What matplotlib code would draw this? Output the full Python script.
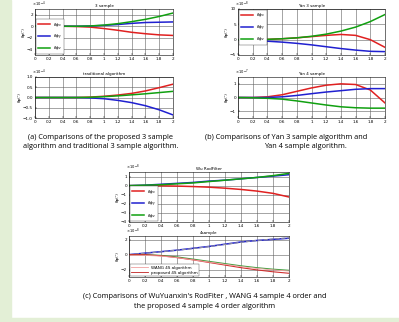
import numpy as np
import matplotlib
matplotlib.use("Agg")
import matplotlib.pyplot as plt
from matplotlib.patches import Rectangle
from matplotlib.lines import Line2D

# time axis (s)
t = [0, 0.2, 0.4, 0.6, 0.8, 1.0, 1.2, 1.4, 1.6, 1.8, 2.0]
xticks = [0, 0.2, 0.4, 0.6, 0.8, 1, 1.2, 1.4, 1.6, 1.8, 2]
xticklabels = ["0", "0.2", "0.4", "0.6", "0.8", "1", "1.2", "1.4", "1.6", "1.8", "2"]

# (a) proposed 3 sample
a1_x = [0, 0, 0, -0.05, -0.15, -0.4, -0.7, -1.05, -1.3, -1.5, -1.6]
a1_y = [0, 0, 0, 0, 0.05, 0.15, 0.3, 0.5, 0.65, 0.7, 0.75]
a1_z = [0, 0, 0, 0, 0.05, 0.2, 0.45, 0.8, 1.2, 1.7, 2.3]
# (a) traditional algorithm
a2_x = [0, 0, 0, 0, 0.02, 0.06, 0.12, 0.2, 0.32, 0.48, 0.65]
a2_y = [0, 0, 0, 0, -0.02, -0.06, -0.14, -0.25, -0.4, -0.6, -0.85]
a2_z = [0, 0, 0, 0, 0.01, 0.04, 0.08, 0.13, 0.18, 0.24, 0.3]
# (b) Yan 3 sample
b1_x = [0, 0, 0.1, 0.3, 0.6, 1.0, 1.4, 1.7, 1.4, 0.0, -2.5]
b1_y = [0, -0.2, -0.5, -0.8, -1.2, -1.7, -2.3, -2.9, -3.4, -3.8, -3.9]
b1_z = [0, 0, 0.1, 0.3, 0.6, 1.1, 1.8, 2.8, 4.1, 5.9, 8.2]
# (b) Yan 4 sample
b2_x = [0, 0, 0.05, 0.2, 0.45, 0.7, 0.9, 1.0, 0.95, 0.55, -0.4]
b2_y = [0, 0, 0, 0.05, 0.15, 0.28, 0.4, 0.5, 0.6, 0.65, 0.65]
b2_z = [0, -0.02, -0.06, -0.12, -0.25, -0.4, -0.55, -0.68, -0.75, -0.78, -0.78]
# (c) Wu RodFilter
c1_x = [0, 0, -0.02, -0.05, -0.1, -0.17, -0.28, -0.42, -0.6, -0.85, -1.25]
c1_y = [0, 0.05, 0.15, 0.25, 0.35, 0.5, 0.6, 0.75, 0.9, 1.05, 1.2]
c1_z = [0, 0.05, 0.1, 0.2, 0.3, 0.45, 0.6, 0.75, 0.9, 1.1, 1.35]
# (c) 4 sample
c2_up = [0, 0.2, 0.4, 0.6, 0.85, 1.1, 1.4, 1.7, 1.9, 2.05, 2.2]
c2_up_d = [0, 0.18, 0.38, 0.6, 0.82, 1.08, 1.36, 1.66, 1.9, 2.1, 2.25]
c2_wang = [0, 0, -0.1, -0.3, -0.6, -0.9, -1.2, -1.5, -1.75, -1.95, -2.1]
c2_prop = [0, 0, -0.15, -0.4, -0.7, -1.05, -1.4, -1.75, -2.05, -2.3, -2.5]

labels_xyz = [r"$\delta\phi_x$", r"$\delta\phi_y$", r"$\delta\phi_z$"]
cols = ["#e02020", "#2020d0", "#10a010"]
FS = 3

W, H = 399, 322
fig = plt.figure(figsize=(W / 100, H / 100), dpi=100)
fig.patch.set_facecolor("white")
fig.patches.append(Rectangle((0, 0), 11 / W, 1, transform=fig.transFigure,
                             color="#e3efd6", zorder=0))
fig.patches.append(Rectangle((0, 0), 1, 4 / H, transform=fig.transFigure,
                             color="#e3efd6", zorder=0))


def make_ax(x0, y0, x1, y1):
    return fig.add_axes([x0 / W, 1 - y1 / H, (x1 - x0) / W, (y1 - y0) / H])


def style(ax, title, ylim, yticks, exp):
    ax.set_xlim(0, 2)
    ax.set_ylim(*ylim)
    ax.set_xticks(xticks)
    ax.set_xticklabels(xticklabels)
    ax.set_yticks(yticks)
    ax.tick_params(labelsize=FS, length=1.5, width=0.3, pad=1.5, direction="in")
    ax.grid(True, color="#606060", lw=0.4)
    for s in ax.spines.values():
        s.set_linewidth(0.4)
    ax.set_title(title, fontsize=FS, pad=1.5)
    ax.set_ylabel("δφ(″)", fontsize=FS, labelpad=1)
    ax.text(-0.02, 1.0, r"$\times\,10^{%d}$" % exp, transform=ax.transAxes,
            fontsize=2.6, ha="left", va="bottom")


def three(ax, xs, loc):
    for v, c, lab in zip(xs, cols, labels_xyz):
        ax.plot(t, v, color=c, lw=1.1, label=lab)
    ax.legend(loc=loc, fontsize=FS, handlelength=3, framealpha=1,
              edgecolor="#444444", fancybox=False, borderpad=0.4,
              labelspacing=0.8, borderaxespad=0.2).get_frame().set_linewidth(0.3)


# (a)
ax = make_ax(35, 9, 173, 55)
three(ax, [a1_x, a1_y, a1_z], "lower left")
style(ax, "3 sample", (-5, 3), [-4, -2, 0, 2], -4)

ax = make_ax(35, 77, 173, 118)
for v, c in zip([a2_x, a2_y, a2_z], cols):
    ax.plot(t, v, color=c, lw=1.1)
style(ax, "traditional algorithm", (-1, 1), [-1, -0.5, 0, 0.5, 1], -4)

# (b)
ax = make_ax(238, 9, 385, 55)
three(ax, [b1_x, b1_y, b1_z], "upper left")
style(ax, "Yan 3 sample", (-5, 10), [-5, 0, 5, 10], -8)

ax = make_ax(238, 77, 385, 118)
for v, c in zip([b2_x, b2_y, b2_z], cols):
    ax.plot(t, v, color=c, lw=1.1)
style(ax, "Yan 4 sample", (-1.5, 1.5), [-1, 0, 1], -7)

# (c)
ax = make_ax(129, 172, 289, 222)
three(ax, [c1_x, c1_y, c1_z], "lower left")
style(ax, "Wu RodFilter", (-4, 1.5), [-4, -3, -2, -1, 0, 1], -8)

ax = make_ax(129, 236, 289, 277)
ax.plot(t, c2_up, color="#2020d0", lw=1.1)
ax.plot(t, c2_up_d, color="#9090a0", lw=0.8, ls="--")
ax.plot(t, c2_wang, color="#40a040", lw=0.8)
ax.plot(t, c2_prop, color="#d03030", lw=0.8)
ax.plot(t, [v - 0.1 for v in c2_wang], color="#f0a0a0", lw=0.6)
hand = [Line2D([], [], color="#f0a0a0", lw=0.6), Line2D([], [], color="#c02020", lw=0.6)]
lg = ax.legend(hand, ["WANG 4S algorithm", "proposed 4S algorithm"], loc="lower left",
               fontsize=FS, handlelength=4, framealpha=1, edgecolor="#444444",
               fancybox=False, borderpad=0.3, labelspacing=0.3, borderaxespad=0.2)
lg.get_frame().set_linewidth(0.3)
style(ax, "4sample", (-3, 2.5), [-2, 0, 2], -8)

# captions
CF = 5.3
fig.text(101 / W, 1 - 137 / H, "(a) Comparisons of the proposed 3 sample",
         fontsize=CF, ha="center", va="center", family="Open Sans")
fig.text(101 / W, 1 - 146 / H, "algorithm and traditional 3 sample algorithm.",
         fontsize=CF, ha="center", va="center", family="Open Sans")
fig.text(205 / W, 1 - 137 / H, "(b) Comparisons of Yan 3 sample algorithm and",
         fontsize=CF, ha="left", va="center", family="Open Sans")
fig.text(305 / W, 1 - 146 / H, "Yan 4 sample algorithm.",
         fontsize=CF, ha="center", va="center", family="Open Sans")
fig.text(205 / W, 1 - 297 / H,
         "(c) Comparisons of WuYuanxin's RodFiter , WANG 4 sample 4 order and",
         fontsize=CF, ha="center", va="center", family="Open Sans")
fig.text(205 / W, 1 - 306 / H, "the proposed 4 sample 4 order algorithm",
         fontsize=CF, ha="center", va="center", family="Open Sans")

fig.savefig("out.png", dpi=100)
